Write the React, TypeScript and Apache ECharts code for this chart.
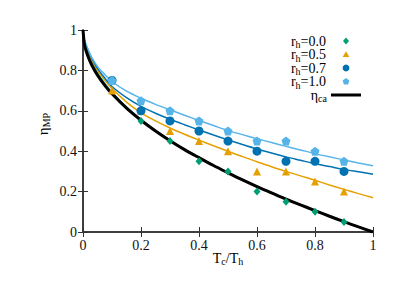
import React, { useEffect, useRef } from "react";
import * as echarts from "echarts";

const xCurve = [0, 0.005, 0.01, 0.02, 0.03, 0.05, 0.075, 0.1, 0.15, 0.2, 0.25, 0.3, 0.35, 0.4, 0.45, 0.5, 0.55, 0.6, 0.65, 0.7, 0.75, 0.8, 0.85, 0.9, 0.95, 1];
const etaCA = [1, 0.929, 0.9, 0.859, 0.827, 0.776, 0.726, 0.684, 0.613, 0.553, 0.5, 0.452, 0.408, 0.368, 0.329, 0.293, 0.258, 0.225, 0.194, 0.163, 0.134, 0.106, 0.078, 0.051, 0.025, 0];
const curveRh00 = [1, 0.94, 0.912, 0.872, 0.84, 0.788, 0.736, 0.692, 0.619, 0.557, 0.503, 0.454, 0.41, 0.369, 0.33, 0.294, 0.259, 0.226, 0.195, 0.164, 0.135, 0.107, 0.079, 0.052, 0.026, 0.001];
const curveRh05 = [1, 0.94, 0.918, 0.88, 0.85, 0.8, 0.752, 0.71, 0.643, 0.59, 0.55, 0.515, 0.484, 0.455, 0.427, 0.4, 0.373, 0.348, 0.323, 0.3, 0.278, 0.256, 0.233, 0.211, 0.19, 0.17];
const curveRh07 = [1, 0.948, 0.927, 0.89, 0.86, 0.81, 0.762, 0.72, 0.665, 0.622, 0.588, 0.558, 0.531, 0.505, 0.48, 0.456, 0.433, 0.411, 0.391, 0.372, 0.355, 0.338, 0.324, 0.31, 0.298, 0.286];
const curveRh10 = [1, 0.95, 0.93, 0.895, 0.865, 0.82, 0.78, 0.745, 0.697, 0.662, 0.632, 0.605, 0.578, 0.552, 0.527, 0.502, 0.482, 0.462, 0.443, 0.424, 0.406, 0.388, 0.372, 0.357, 0.342, 0.328];

const xPts = [0.1, 0.2, 0.3, 0.4, 0.5, 0.6, 0.7, 0.8, 0.9];
const xPtsGreen = [0.2, 0.3, 0.4, 0.5, 0.6, 0.7, 0.8, 0.9];
const ptsRh00 = [0.55, 0.45, 0.35, 0.3, 0.2, 0.15, 0.1, 0.05];
const ptsRh05 = [0.7, 0.6, 0.5, 0.45, 0.4, 0.3, 0.3, 0.25, 0.2];
const ptsRh07 = [0.75, 0.6, 0.55, 0.5, 0.45, 0.4, 0.35, 0.35, 0.3];
const ptsRh10 = [0.75, 0.65, 0.6, 0.55, 0.5, 0.45, 0.45, 0.4, 0.35];

const legendLabels = ["0.0", "0.5", "0.7", "1.0"];

const GREEN = "#009E73";
const ORANGE = "#E69F00";
const DBLUE = "#0072B2";
const LBLUE = "#56B4E9";
const FONT = "'Liberation Serif', 'Times New Roman', serif";
const PENTAGON = "path://M0,-10 L9.51,-3.09 L5.88,8.09 L-5.88,8.09 L-9.51,-3.09 Z";

const zip = (xs: number[], ys: number[]) => xs.map((x, i) => [x, ys[i]]);

export default function App() {
  const ref = useRef<HTMLDivElement>(null);
  useEffect(() => {
    const chart = echarts.init(ref.current!, null, { renderer: "svg" });
    const axisLine = { show: true, lineStyle: { color: "#333", width: 1.5 } };
    const axisTick = { show: true, inside: true, length: 5, lineStyle: { color: "#333", width: 1 } };
    const label = { fontFamily: FONT, fontSize: 14, color: "#111" };
    const curve = (data: number[], color: string, width: number, z: number) => ({
      type: "line",
      data: zip(xCurve, data),
      smooth: 0.3,
      showSymbol: false,
      lineStyle: { color, width },
      itemStyle: { color },
      z,
    });
    const pts = (xs: number[], ys: number[], color: string, symbol: string, size: any) => ({
      type: "scatter",
      data: zip(xs, ys),
      symbol,
      symbolSize: size,
      itemStyle: { color, opacity: 1 },
      z: 5,
    });
    const sub = { fontFamily: FONT, fontSize: 10, color: "#000", padding: [7, 0, 0, 0] };
    const main = { fontFamily: FONT, fontSize: 14, color: "#000" };
    const legendRows: any[] = [];
    const markerSyms = [
      { type: "polygon", shape: { points: [[-3, 0], [0, -3.5], [3, 0], [0, 3.5]] }, style: { fill: GREEN } },
      { type: "polygon", shape: { points: [[-3.3, 2.6], [0, -3.3], [3.3, 2.6]] }, style: { fill: ORANGE } },
      { type: "circle", shape: { cx: 0, cy: 0, r: 3.4 }, style: { fill: DBLUE } },
      { type: "polygon", shape: { points: [[0, -3.6], [3.4, -1.1], [2.1, 2.9], [-2.1, 2.9], [-3.4, -1.1]] }, style: { fill: LBLUE } },
    ];
    const rowsY = [41, 54.5, 68, 81.5];
    legendLabels.forEach((lab, i) => {
      legendRows.push({
        type: "text",
        x: 326,
        y: rowsY[i],
        style: {
          text: "r{s|h}=" + lab,
          align: "right",
          verticalAlign: "middle",
          ...main,
          rich: { s: sub },
        },
      });
      legendRows.push({ ...markerSyms[i], x: 346, y: rowsY[i] });
    });
    legendRows.push({
      type: "text",
      x: 327,
      y: 95,
      style: { text: "η{s|ca}", align: "right", verticalAlign: "middle", ...main, rich: { s: sub } },
    });
    legendRows.push({ type: "line", shape: { x1: 331, y1: 95, x2: 361, y2: 95 }, style: { stroke: "#000", lineWidth: 3 } });

    chart.setOption({
      animation: false,
      textStyle: { fontFamily: FONT },
      grid: { left: 83, right: 42, top: 30, bottom: 59 },
      xAxis: [
        { type: "value", min: 0, max: 1, interval: 0.2, axisLine, axisTick, splitLine: { show: false }, axisLabel: { ...label, margin: 6 } },
        { type: "value", position: "top", min: 0, max: 1, interval: 0.2, axisLine, axisTick, splitLine: { show: false }, axisLabel: { show: false } },
      ],
      yAxis: [
        { type: "value", min: 0, max: 1, interval: 0.2, axisLine, axisTick, splitLine: { show: false }, axisLabel: { ...label, margin: 6 } },
        { type: "value", position: "right", min: 0, max: 1, interval: 0.2, axisLine, axisTick, splitLine: { show: false }, axisLabel: { show: false } },
      ],
      series: [
        curve(curveRh00, GREEN, 1.5, 2),
        curve(curveRh05, ORANGE, 1.5, 2),
        curve(curveRh07, DBLUE, 1.5, 2),
        curve(curveRh10, LBLUE, 1.5, 2),
        pts(xPtsGreen, ptsRh00, GREEN, "diamond", [7, 8]),
        pts(xPts, ptsRh05, ORANGE, "triangle", 8),
        pts(xPts, ptsRh07, DBLUE, "circle", 9),
        pts(xPts, ptsRh10, LBLUE, PENTAGON, 9),
        curve(etaCA, "#000", 3, 3),
      ],
      graphic: [
        ...legendRows,
        {
          type: "text",
          x: 43,
          y: 124,
          rotation: Math.PI / 2,
          style: { text: "η{s|MP}", align: "center", verticalAlign: "middle", ...main, fontSize: 15, rich: { s: sub } },
        },
        {
          type: "text",
          x: 228,
          y: 258,
          style: { text: "T{s|c}/T{s|h}", align: "center", verticalAlign: "middle", ...main, rich: { s: sub } },
        },
      ],
    });
    return () => chart.dispose();
  }, []);
  return <div ref={ref} style={{ position: "fixed", left: 0, top: 0, width: 415, height: 291, background: "#fff" }} />;
}
